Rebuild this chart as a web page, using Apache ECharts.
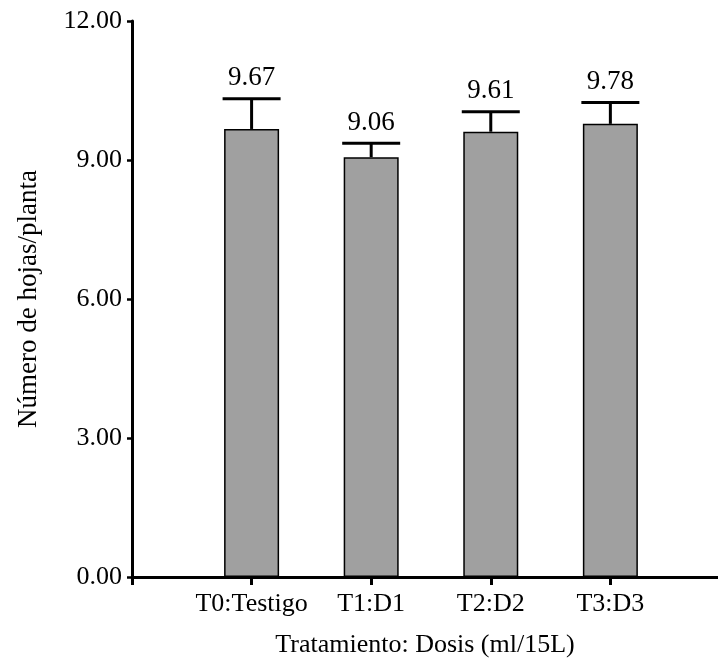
<!DOCTYPE html>
<html>
<head>
<meta charset="utf-8">
<script src="https://cdn.jsdelivr.net/npm/echarts@6/dist/echarts.min.js"></script>
<style>
  html, body { margin: 0; padding: 0; background: #fff; }
  #chart { width: 718px; height: 659px; }
</style>
</head>
<body>
<div id="chart"></div>
<script>
// Treatments, mean leaves per plant and the upper error extent of each mean
const categories = ['T0:Testigo', 'T1:D1', 'T2:D2', 'T3:D3'];
const means = [9.67, 9.06, 9.61, 9.78];
const errors = [0.65, 0.30, 0.43, 0.46];
const yTicks = [0, 3, 6, 9, 12];

const FONT = "'Liberation Serif', 'Times New Roman', serif";

const chart = echarts.init(document.getElementById('chart'), null, { renderer: 'canvas' });

// Bars sit at positions 1..n on a numeric x axis
const barData = means.map((v, i) => [i + 1, v]);
const errData = means.map((v, i) => [i + 1, v, v + errors[i]]);

chart.setOption({
  animation: false,
  backgroundColor: '#ffffff',
  grid: { left: 132, right: 0, top: 21, bottom: 82, containLabel: false, outerBoundsMode: 'none' },
  xAxis: {
    type: 'value',
    min: 0,
    max: 4.9,
    interval: 1,
    splitLine: { show: false },
    axisLine: { lineStyle: { color: '#000', width: 3 } },
    axisTick: { length: 8, lineStyle: { color: '#000', width: 3 } },
    axisLabel: {
      margin: 14,
      color: '#000',
      fontFamily: FONT,
      fontSize: 26,
      showMaxLabel: false,
      formatter: v => (Number.isInteger(v) && v >= 1 && v <= categories.length) ? categories[v - 1] : ''
    },
    name: 'Tratamiento: Dosis (ml/15L)',
    nameLocation: 'middle',
    nameGap: 55,
    nameTextStyle: { color: '#000', fontFamily: FONT, fontSize: 26 }
  },
  yAxis: {
    type: 'value',
    min: yTicks[0],
    max: yTicks[yTicks.length - 1],
    interval: yTicks[1] - yTicks[0],
    splitLine: { show: false },
    axisLine: { show: true, lineStyle: { color: '#000', width: 3 } },
    axisTick: { show: true, length: 5, lineStyle: { color: '#000', width: 2.5 } },
    axisLabel: {
      margin: 10,
      color: '#000',
      fontFamily: FONT,
      fontSize: 26,
      formatter: v => v.toFixed(2)
    },
    name: 'Número de hojas/planta',
    nameLocation: 'middle',
    nameGap: 90,
    nameTextStyle: { color: '#000', fontFamily: FONT, fontSize: 27 }
  },
  series: [
    {
      type: 'bar',
      data: barData,
      barWidth: 55,
      itemStyle: { color: '#a0a0a0', borderColor: '#000', borderWidth: 1.5 },
      z: 2
    },
    {
      type: 'custom',
      data: errData,
      z: 3,
      renderItem: (params, api) => {
        const x = api.value(0);
        const base = api.coord([x, api.value(1)]);
        const top = api.coord([x, api.value(2)]);
        const half = 29;
        const mean = means[params.dataIndex];
        return {
          type: 'group',
          children: [
            {
              type: 'line',
              shape: { x1: base[0], y1: base[1], x2: top[0], y2: top[1] },
              style: { stroke: '#000', lineWidth: 3 }
            },
            {
              type: 'line',
              shape: { x1: top[0] - half, y1: top[1], x2: top[0] + half, y2: top[1] },
              style: { stroke: '#000', lineWidth: 3 }
            },
            {
              type: 'text',
              x: top[0],
              y: top[1] - 7,
              style: {
                text: mean.toFixed(2),
                fill: '#000',
                font: '27px ' + FONT,
                align: 'center',
                verticalAlign: 'bottom'
              }
            }
          ]
        };
      }
    }
  ]
});
</script>
</body>
</html>
